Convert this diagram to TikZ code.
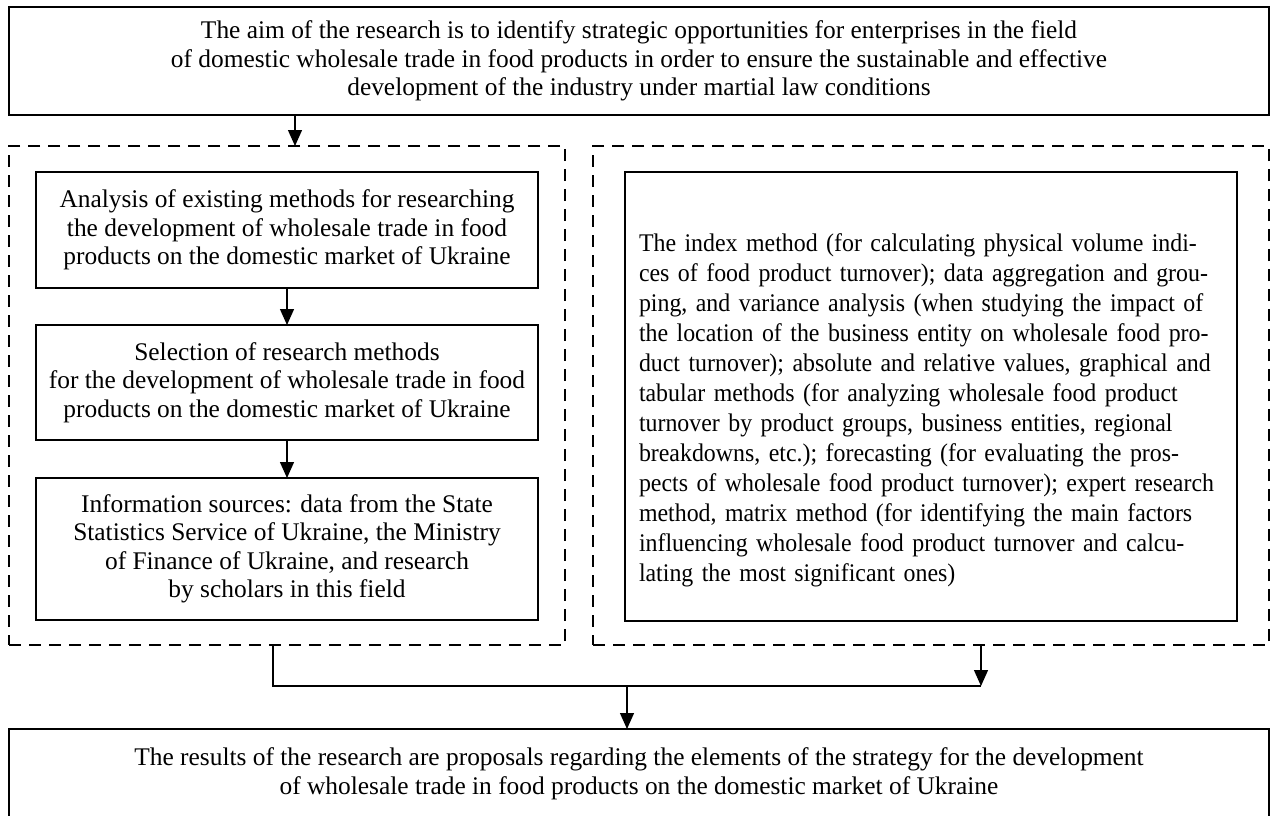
\documentclass[tikz,border=0pt]{standalone}
\usepackage{fontspec}
\setmainfont{Liberation Serif}
\newfontfamily\rbfont[FakeStretch=0.94]{Liberation Serif}
\usetikzlibrary{arrows.meta}
\newcommand{\jl}[1]{\makebox[\linewidth][s]{#1}\\}
\begin{document}
\begin{tikzpicture}[x=1pt,y=-1pt,
  every node/.style={font=\fontsize{25.4}{28.5}\selectfont, inner sep=0pt, outer sep=0pt},
  solidbox/.style={draw, line width=1.3pt, align=center},
  dashbox/.style={draw, line width=1.3pt, dash pattern=on 12pt off 8pt},
  arr/.style={line width=1.3pt, -{Triangle[width=14pt,length=16pt]}},
  link/.style={line width=1.3pt}]
\useasboundingbox (0,0) rectangle (1270,815);
\fill[white] (0,0) rectangle (1270,815);

% top box
\node[solidbox, minimum width=1260pt, minimum height=108pt] (aim) at (639,61)
 {The aim of the research is to identify strategic opportunities for enterprises in the field\\
  of domestic wholesale trade in food products in order to ensure the sustainable and effective\\
  development of the industry under martial law conditions};

% dashed containers
\node[dashbox, minimum width=556pt, minimum height=499pt] (ldash) at (287,395.5) {};
\node[dashbox, minimum width=676pt, minimum height=499pt] (rdash) at (931,395.5) {};

% left inner boxes
\node[solidbox, minimum width=502pt, minimum height=116pt] (b1) at (287,230)
 {Analysis of existing methods for researching\\
  the development of wholesale trade in food\\
  products on the domestic market of Ukraine};
\node[solidbox, minimum width=502pt, minimum height=115pt] (b2) at (287,382.5)
 {Selection of research methods\\
  for the development of wholesale trade in food\\
  products on the domestic market of Ukraine};
\node[solidbox, minimum width=502pt, minimum height=142pt] (b3) at (287,549)
 {Information sources: data from the State\\
  Statistics Service of Ukraine, the Ministry\\
  of Finance of Ukraine, and research\\
  by scholars in this field};

% right inner box
\node[draw, line width=1.3pt, minimum width=612pt, minimum height=449pt] (rb) at (931,396.5) {};
\node[text width=584pt, align=left, font=\rbfont\fontsize{25.4}{30}\selectfont] (rt) at ([yshift=-13.5pt]rb.center)
 {\jl{The index method (for calculating physical volume indi-}
  \jl{ces of food product turnover); data aggregation and grou-}
  \jl{ping, and variance analysis (when studying the impact of}
  \jl{the location of the business entity on wholesale food pro-}
  \jl{duct turnover); absolute and relative values, graphical and}
  \jl{tabular methods (for analyzing wholesale food product}
  \jl{turnover by product groups, business entities, regional}
  \jl{breakdowns, etc.); forecasting (for evaluating the pros-}
  \jl{pects of wholesale food product turnover); expert research}
  \jl{method, matrix method (for identifying the main factors}
  \jl{influencing wholesale food product turnover and calcu-}
  lating the most significant ones)};

% bottom box (its lower edge lies below the page)
\node[solidbox, minimum width=1260pt, minimum height=89pt] (res) at (639,773.5)
 {The results of the research are proposals regarding the elements of the strategy for the development\\
  of wholesale trade in food products on the domestic market of Ukraine};

% connectors
\coordinate (c1) at (295,0);
\coordinate (c2) at (273,0);
\coordinate (join) at (981,686);
\coordinate (mid) at (627,686);
\draw[arr] (aim.south -| c1) -- (ldash.north -| c1);
\draw[arr] (b1) -- (b2);
\draw[arr] (b2) -- (b3);
\draw[link] (ldash.south -| c2) |- (join);
\draw[arr] (rdash.south -| join) -- (join);
\draw[arr] (mid) -- (res.north -| mid);
\end{tikzpicture}
\end{document}
